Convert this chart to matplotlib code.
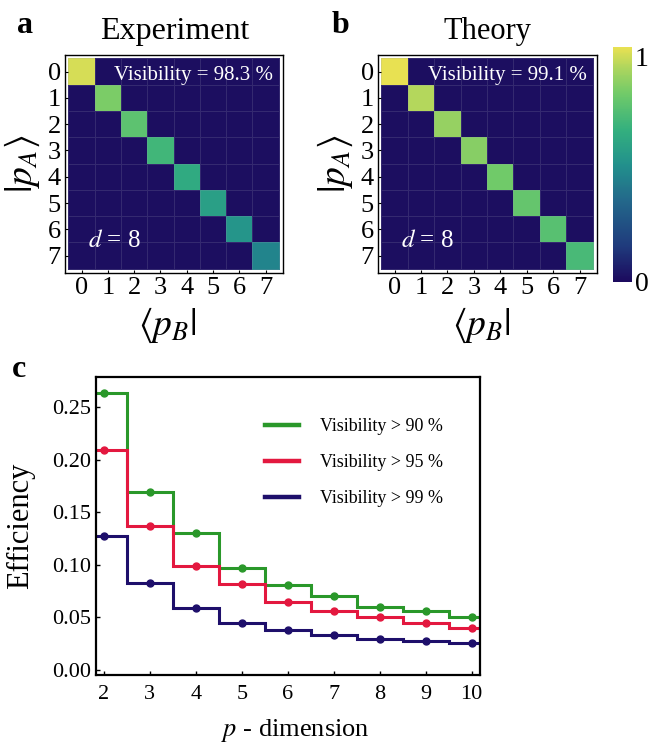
import matplotlib
matplotlib.use("Agg")
import matplotlib.pyplot as plt
import numpy as np
from matplotlib.colors import LinearSegmentedColormap

plt.rcParams['font.family'] = ['Liberation Serif', 'DejaVu Serif']
plt.rcParams['mathtext.fontset'] = 'stix'

# ---- data ----
labels_ab = [0, 1, 2, 3, 4, 5, 6, 7]
diag_exp = [0.97, 0.82, 0.75, 0.68, 0.62, 0.57, 0.52, 0.45]
diag_theory = [1.0, 0.92, 0.87, 0.84, 0.80, 0.77, 0.74, 0.70]
offdiag_level = 0.015
vis_exp = "Visibility = 98.3 %"
vis_theory = "Visibility = 99.1 %"

p_dim = [2, 3, 4, 5, 6, 7, 8, 9, 10]
eff_90 = [0.264, 0.169, 0.130, 0.097, 0.081, 0.070, 0.060, 0.056, 0.050]
eff_95 = [0.209, 0.137, 0.099, 0.082, 0.065, 0.056, 0.050, 0.045, 0.040]
eff_99 = [0.127, 0.083, 0.059, 0.045, 0.038, 0.033, 0.029, 0.027, 0.025]

cmap = LinearSegmentedColormap.from_list('vir', [
    (0.0, '#1c0a5e'), (0.15, '#1f3a7c'), (0.35, '#23698b'), (0.5, '#22918c'),
    (0.65, '#34b07e'), (0.8, '#70ca69'), (0.9, '#a6d45f'), (1.0, '#e8e152')])


def heat(ax, diag, vis):
    m = np.full((8, 8), offdiag_level)
    m[np.arange(8), np.arange(8)] = diag
    ax.pcolormesh(np.arange(9) - 0.5, np.arange(9) - 0.5, m, cmap=cmap, vmin=0, vmax=1,
                  edgecolor=(0.6, 0.6, 0.7, 0.2), linewidth=0.4)
    ax.set_xlim(-0.63, 7.66)
    ax.set_ylim(7.66, -0.63)
    ax.set_xticks(labels_ab)
    ax.set_yticks(labels_ab)
    ax.tick_params(direction='in', length=2.5, labelsize=19, pad=3)
    for s in ax.spines.values():
        s.set_linewidth(1.0)
    ax.set_ylabel(r'$|p_A\rangle$', fontsize=27)
    ax.set_xlabel(r'$\langle p_B|$', fontsize=27)
    ax.xaxis.set_label_coords(0.47, -0.15)
    ax.yaxis.set_label_coords(-0.105, 0.5)
    ax.text(0.953, 0.885, vis, transform=ax.transAxes, color='white', ha='right',
            va='baseline', fontsize=15)
    ax.text(0.105, 0.12, r'$d$ = 8', transform=ax.transAxes, color='white',
            ha='left', va='baseline', fontsize=18)


fig = plt.figure(figsize=(6.57, 7.45), dpi=100)

ax_a = fig.add_axes([0.0989, 0.6336, 0.3318, 0.2926])
heat(ax_a, diag_exp, vis_exp)

ax_b = fig.add_axes([0.5753, 0.6336, 0.3333, 0.2926])
heat(ax_b, diag_theory, vis_theory)

cax = fig.add_axes([0.933, 0.6215, 0.0289, 0.3154])
sm = plt.cm.ScalarMappable(cmap=cmap, norm=plt.Normalize(0, 1))
cb = fig.colorbar(sm, cax=cax, ticks=[0, 1])
cb.outline.set_visible(False)
cax.tick_params(length=0, labelsize=20, pad=2)
cax.get_yticklabels()[1].set_va('top')

fig.text(175 / 657, 1 - 32 / 745, 'Experiment', ha='center', va='center', fontsize=23)
fig.text(487 / 657, 1 - 32 / 745, 'Theory', ha='center', va='center', fontsize=22)
fig.text(17 / 657, 1 - 33 / 745, 'a', fontsize=23, fontweight='bold', va='baseline')
fig.text(332 / 657, 1 - 33 / 745, 'b', fontsize=23, fontweight='bold', va='baseline')
fig.text(12 / 657, 1 - 377 / 745, 'c', fontsize=23, fontweight='bold', va='baseline')

# ---- panel c ----
ax = fig.add_axes([0.1461, 0.094, 0.5845, 0.4])
edges = np.arange(len(p_dim) + 1) + p_dim[0] - 0.5
edges[0] -= 1
edges[-1] += 1
series = [(eff_90, '#2a982a', 'Visibility > 90 %'),
          (eff_95, '#e3183f', 'Visibility > 95 %'),
          (eff_99, '#1e0f6b', 'Visibility > 99 %')]
for vals, col, lab in series:
    ax.stairs(vals, edges, baseline=None, color=col, linewidth=2.2)
    ax.plot(p_dim, vals, 'o', color=col, markersize=5)
    ax.plot([], [], color=col, linewidth=3.2, label=lab)

ax.set_xlim(1.83, 10.18)
ax.set_ylim(-0.005, 0.279)
ax.set_xticks(p_dim)
ax.set_yticks([0.0, 0.05, 0.10, 0.15, 0.20, 0.25])
ax.set_yticklabels(['0.00', '0.05', '0.10', '0.15', '0.20', '0.25'])
ax.tick_params(direction='in', length=3, labelsize=16, width=1)
ax.tick_params(axis='x', pad=7)
for s in ax.spines.values():
    s.set_linewidth(1.6)
ax.set_ylabel('Efficiency', fontsize=22)
ax.set_xlabel(r'$p$ - dimension', fontsize=19)
ax.yaxis.set_label_coords(-0.159, 0.5)
ax.xaxis.set_label_coords(0.52, -0.14)
ax.legend(loc='upper left', bbox_to_anchor=(0.44, 0.862), frameon=False, fontsize=13,
          handlelength=1.9, handletextpad=1.15, labelspacing=1.05, borderpad=0,
          borderaxespad=0)

fig.savefig('out.png', dpi=100)
plt.close(fig)
